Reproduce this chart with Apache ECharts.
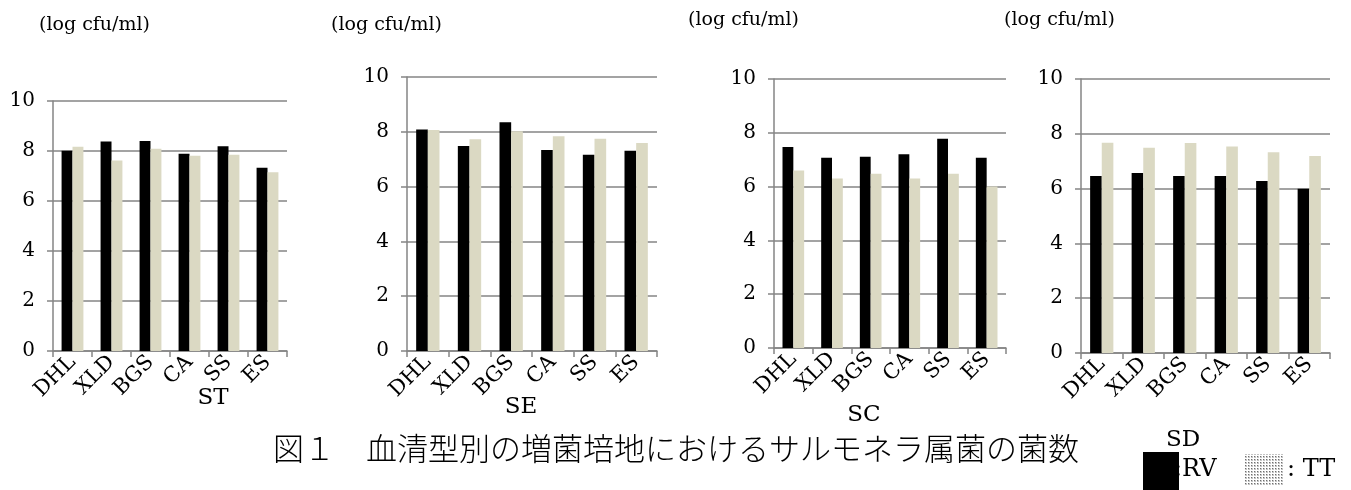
<!DOCTYPE html>
<html>
<head>
<meta charset="utf-8">
<script src="https://cdn.jsdelivr.net/npm/echarts@6/dist/echarts.min.js"></script>
<style>
  html, body { margin: 0; padding: 0; background: #fff; }
  #chart { width: 1351px; height: 490px; }
</style>
</head>
<body>
<div id="chart"></div>
<script>
// 培地
var categories = ['DHL', 'XLD', 'BGS', 'CA', 'SS', 'ES'];
// 血清型ごとの菌数 (log cfu/ml)
var stRV = [8.01, 8.38, 8.40, 7.89, 8.19, 7.33];
var stTT = [8.17, 7.62, 8.09, 7.81, 7.85, 7.15];
var seRV = [8.08, 7.48, 8.35, 7.34, 7.16, 7.31];
var seTT = [8.07, 7.73, 8.02, 7.84, 7.75, 7.59];
var scRV = [7.47, 7.07, 7.11, 7.20, 7.78, 7.07];
var scTT = [6.60, 6.30, 6.48, 6.30, 6.48, 6.00];
var sdRV = [6.46, 6.57, 6.46, 6.46, 6.28, 5.99];
var sdTT = [7.67, 7.49, 7.66, 7.54, 7.33, 7.19];
var panelNames = ['ST', 'SE', 'SC', 'SD'];
var unitLabel = '(log cfu/ml)';
var caption = '図１　血清型別の増菌培地におけるサルモネラ属菌の菌数';

var rvData = [stRV, seRV, scRV, sdRV];
var ttData = [stTT, seTT, scTT, sdTT];

var chart = echarts.init(document.getElementById('chart'));

var serif = 'DejaVu Serif';
var gray = '#858585';

// パネル配置
var grids = [
    {left: 53, top: 101, width: 234, height: 250},
    {left: 407, top: 77, width: 250, height: 274},
    {left: 774, top: 79, width: 232, height: 269},
    {left: 1081, top: 79, width: 249, height: 274}
];
var unitPos = [[39, 25], [331, 25], [688, 20], [1004, 20]];
var namePos = [[213, 398], [521, 407], [864, 415], [1183, 440]];

var xAxes = [], yAxes = [], series = [], graphics = [];
for (var i = 0; i < 4; i++) {
    xAxes.push({
        type: 'category', gridIndex: i, data: categories,
        axisLine: {lineStyle: {color: gray, width: 1.5}},
        axisTick: {show: true, length: 6, lineStyle: {color: gray, width: 1.5}},
        axisLabel: {rotate: 45, margin: 8, color: '#000', fontFamily: serif, fontSize: 21}
    });
    yAxes.push({
        type: 'value', gridIndex: i, min: 0, max: 10, interval: 2,
        axisLine: {show: true, lineStyle: {color: gray, width: 1.5}},
        axisTick: {show: true, length: 6, lineStyle: {color: gray, width: 1.5}},
        splitLine: {lineStyle: {color: gray, width: 1.5}},
        axisLabel: {margin: 18, color: '#000', fontFamily: serif, fontSize: 20}
    });
    series.push({
        name: 'RV', type: 'bar', xAxisIndex: i, yAxisIndex: i,
        data: rvData[i], barGap: '0%', barCategoryGap: '44%',
        itemStyle: {color: '#000'}
    });
    series.push({
        name: 'TT', type: 'bar', xAxisIndex: i, yAxisIndex: i,
        data: ttData[i], barGap: '0%', barCategoryGap: '44%',
        itemStyle: {color: '#dbd9c3'}
    });
    graphics.push({
        type: 'text', x: unitPos[i][0], y: unitPos[i][1],
        style: {text: unitLabel, fill: '#000', fontFamily: serif, fontSize: 19,
                verticalAlign: 'middle'}
    });
    graphics.push({
        type: 'text', x: namePos[i][0], y: namePos[i][1],
        style: {text: panelNames[i], fill: '#000', fontFamily: serif, fontSize: 23,
                align: 'center', verticalAlign: 'middle'}
    });
}

// キャプション
graphics.push({
    type: 'text', x: 273, y: 448,
    style: {text: caption, fill: '#000', fontFamily: 'Noto Sans CJK JP', fontSize: 31,
            fontWeight: 300, verticalAlign: 'middle'}
});

// 凡例 (点描パターン)
var pat = document.createElement('canvas');
pat.width = 3; pat.height = 3;
var pctx = pat.getContext('2d');
pctx.fillStyle = '#ffffff';
pctx.fillRect(0, 0, 3, 3);
pctx.fillStyle = '#c4c4c4';
pctx.fillRect(0, 0, 2, 2);
pctx.fillStyle = '#6e6e6e';
pctx.fillRect(0, 0, 1, 1);

graphics.push({type: 'rect', shape: {x: 1143, y: 452, width: 36, height: 38}, style: {fill: '#000'}});
graphics.push({
    type: 'text', x: 1174, y: 470,
    style: {text: ':RV', fill: '#000', fontFamily: serif, fontSize: 24, verticalAlign: 'middle'}
});
graphics.push({type: 'rect', shape: {x: 1244, y: 454, width: 40, height: 32},
    style: {fill: {image: pat, repeat: 'repeat'}}});
graphics.push({
    type: 'text', x: 1287, y: 470,
    style: {text: ': TT', fill: '#000', fontFamily: serif, fontSize: 24, verticalAlign: 'middle'}
});

var option = {
    animation: false,
    backgroundColor: '#fff',
    grid: grids,
    xAxis: xAxes,
    yAxis: yAxes,
    series: series,
    graphic: graphics
};
chart.setOption(option);
</script>
</body>
</html>
